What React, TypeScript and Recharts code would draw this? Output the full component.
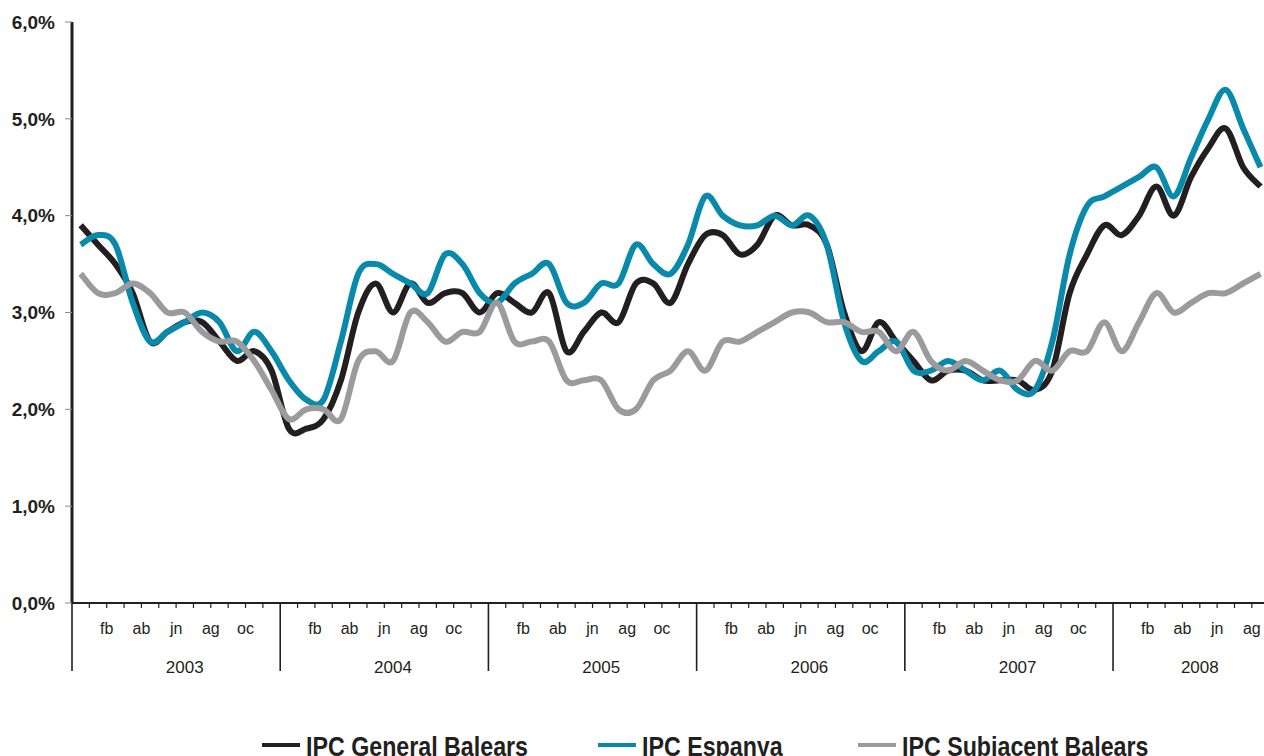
import { LineChart, Line, XAxis, YAxis } from "recharts";

// Catalan month abbreviations, only some are printed on the axis
const MONTHS = ["gn", "fb", "mç", "ab", "mg", "jn", "jl", "ag", "st", "oc", "nv", "ds"];
const SHOWN_MONTHS = ["fb", "ab", "jn", "ag", "oc"];
const YEARS = ["2003", "2004", "2005", "2006", "2007", "2008"];
const Y_TICKS = [0, 1, 2, 3, 4, 5, 6];

// gn 2003 .. st 2008, % interanual
const IPC_GENERAL_BALEARS = [
  3.9, 3.7, 3.5, 3.2, 2.7, 2.8, 2.9, 2.9, 2.7, 2.5, 2.6, 2.4,
  1.8, 1.8, 1.9, 2.3, 3.0, 3.3, 3.0, 3.3, 3.1, 3.2, 3.2, 3.0,
  3.2, 3.1, 3.0, 3.2, 2.6, 2.8, 3.0, 2.9, 3.3, 3.3, 3.1, 3.5,
  3.8, 3.8, 3.6, 3.7, 4.0, 3.9, 3.9, 3.7, 3.0, 2.6, 2.9, 2.7,
  2.5, 2.3, 2.4, 2.4, 2.3, 2.3, 2.3, 2.2, 2.4, 3.2, 3.6, 3.9,
  3.8, 4.0, 4.3, 4.0, 4.4, 4.7, 4.9, 4.5, 4.3,
];
const IPC_ESPANYA = [
  3.7, 3.8, 3.7, 3.1, 2.7, 2.8, 2.9, 3.0, 2.9, 2.6, 2.8, 2.6,
  2.3, 2.1, 2.1, 2.7, 3.4, 3.5, 3.4, 3.3, 3.2, 3.6, 3.5, 3.2,
  3.1, 3.3, 3.4, 3.5, 3.1, 3.1, 3.3, 3.3, 3.7, 3.5, 3.4, 3.7,
  4.2, 4.0, 3.9, 3.9, 4.0, 3.9, 4.0, 3.7, 2.9, 2.5, 2.6, 2.7,
  2.4, 2.4, 2.5, 2.4, 2.3, 2.4, 2.2, 2.2, 2.7, 3.6, 4.1, 4.2,
  4.3, 4.4, 4.5, 4.2, 4.6, 5.0, 5.3, 4.9, 4.5,
];
const IPC_SUBJACENT_BALEARS = [
  3.4, 3.2, 3.2, 3.3, 3.2, 3.0, 3.0, 2.8, 2.7, 2.7, 2.5, 2.2,
  1.9, 2.0, 2.0, 1.9, 2.5, 2.6, 2.5, 3.0, 2.9, 2.7, 2.8, 2.8,
  3.1, 2.7, 2.7, 2.7, 2.3, 2.3, 2.3, 2.0, 2.0, 2.3, 2.4, 2.6,
  2.4, 2.7, 2.7, 2.8, 2.9, 3.0, 3.0, 2.9, 2.9, 2.8, 2.8, 2.6,
  2.8, 2.5, 2.4, 2.5, 2.4, 2.3, 2.3, 2.5, 2.4, 2.6, 2.6, 2.9,
  2.6, 2.9, 3.2, 3.0, 3.1, 3.2, 3.2, 3.3, 3.4,
];

const SERIES = [
  { key: "general", name: "IPC General Balears", color: "#231F20", values: IPC_GENERAL_BALEARS },
  { key: "espanya", name: "IPC Espanya", color: "#0A8AAA", values: IPC_ESPANYA },
  { key: "subjacent", name: "IPC Subjacent Balears", color: "#9B9B9D", values: IPC_SUBJACENT_BALEARS },
];

const data = IPC_GENERAL_BALEARS.map((_, i) => {
  const row: Record<string, any> = {
    idx: i,
    month: MONTHS[i % 12],
    year: YEARS[Math.floor(i / 12)],
  };
  SERIES.forEach((s) => (row[s.key] = s.values[i]));
  return row;
});

const INK = "#231F20";
const FONT = "'Liberation Sans', Arial, Helvetica, sans-serif";

// plot geometry: the original is cropped on the right, so the chart runs a bit past the page
const CHART_W = 1280;
const CHART_H = 756;
const PLOT_LEFT = 72;
const PLOT_W = 1197.2;
const BAND = PLOT_W / data.length;

// Excel-like smoothed line (Catmull-Rom through the points)
function excelSmooth(context: any) {
  let pts: number[][] = [];
  return {
    areaStart() {},
    areaEnd() {},
    lineStart() {
      pts = [];
    },
    point(x: number, y: number) {
      pts.push([+x, +y]);
    },
    lineEnd() {
      if (!pts.length) return;
      context.moveTo(pts[0][0], pts[0][1]);
      for (let i = 0; i < pts.length - 1; i++) {
        const p0 = pts[i - 1] || pts[i];
        const p1 = pts[i];
        const p2 = pts[i + 1];
        const p3 = pts[i + 2] || p2;
        const k = 1 / 6;
        context.bezierCurveTo(
          p1[0] + (p2[0] - p0[0]) * k,
          p1[1] + (p2[1] - p0[1]) * k,
          p2[0] - (p3[0] - p1[0]) * k,
          p2[1] - (p3[1] - p1[1]) * k,
          p2[0],
          p2[1]
        );
      }
    },
  };
}

function MonthTick(props: any) {
  const { x, y, payload } = props;
  const i = props.index ?? payload.index;
  const row = data[i];
  if (!row) return null;
  const left = x - BAND / 2;
  const first = i % 12 === 0;
  const yearCount = data.filter((d) => d.year === row.year).length;
  return (
    <g>
      <line
        x1={left}
        x2={left}
        y1={y}
        y2={y + (first ? 68 : 5)}
        stroke={INK}
        strokeWidth={first ? 1.6 : 1.2}
      />
      {SHOWN_MONTHS.includes(row.month) && (
        <text x={x + BAND / 2} y={y + 31} textAnchor="middle" fontSize={16} fill={INK} fontFamily={FONT}>
          {row.month}
        </text>
      )}
      {first && (
        <text
          x={left + (yearCount / 2 + 0.5) * BAND}
          y={y + 70}
          textAnchor="middle"
          fontSize={17}
          fill={INK}
          fontFamily={FONT}
        >
          {row.year}
        </text>
      )}
    </g>
  );
}

const fmtPct = (v: number) => v.toFixed(1).replace(".", ",") + "%";

// legend item positions (left edge of the swatch)
const LEGEND_LEFT = [262, 598, 858];

export default function App() {
  return (
    <div
      style={{
        position: "absolute",
        left: 0,
        top: 0,
        width: 1264,
        height: 756,
        overflow: "hidden",
        background: "#fff",
      }}
    >
      <LineChart
        width={CHART_W}
        height={CHART_H}
        data={data}
        margin={{ top: 22, right: CHART_W - PLOT_LEFT - PLOT_W, bottom: 0, left: 0 }}
      >
        <XAxis
          dataKey="idx"
          type="category"
          scale="point"
          padding={{ left: BAND / 2, right: BAND / 2 }}
          interval={0}
          height={CHART_H - 22 - 581}
          tickLine={false}
          tickSize={0}
          tickMargin={0}
          axisLine={{ stroke: INK, strokeWidth: 2 }}
          tick={<MonthTick />}
        />
        <YAxis
          width={PLOT_LEFT}
          domain={[0, 6]}
          ticks={Y_TICKS}
          tickFormatter={fmtPct}
          tickSize={7}
          tickMargin={10}
          tickLine={{ stroke: "#8a8a8a" }}
          axisLine={{ stroke: INK, strokeWidth: 3 }}
          tick={{ fontSize: 19, fontWeight: 700, fill: INK, fontFamily: FONT }}
        />
        {SERIES.map((s) => (
          <Line
            key={s.key}
            dataKey={s.key}
            name={s.name}
            type={excelSmooth as any}
            stroke={s.color}
            strokeWidth={6}
            dot={false}
            activeDot={false}
            isAnimationActive={false}
          />
        ))}
      </LineChart>

      {SERIES.map((s, i) => (
        <div
          key={s.key}
          style={{
            position: "absolute",
            left: LEGEND_LEFT[i],
            top: 730,
            height: 34,
            display: "flex",
            alignItems: "center",
            whiteSpace: "nowrap",
          }}
        >
          <span style={{ display: "inline-block", width: 38, height: 4, background: s.color, marginTop: -4 }} />
          <span
            style={{
              display: "inline-block",
              marginLeft: 6,
              fontFamily: FONT,
              fontWeight: 700,
              fontSize: 27,
              lineHeight: "34px",
              color: INK,
              transform: "scaleX(0.86)",
              transformOrigin: "left center",
            }}
          >
            {s.name}
          </span>
        </div>
      ))}
    </div>
  );
}
